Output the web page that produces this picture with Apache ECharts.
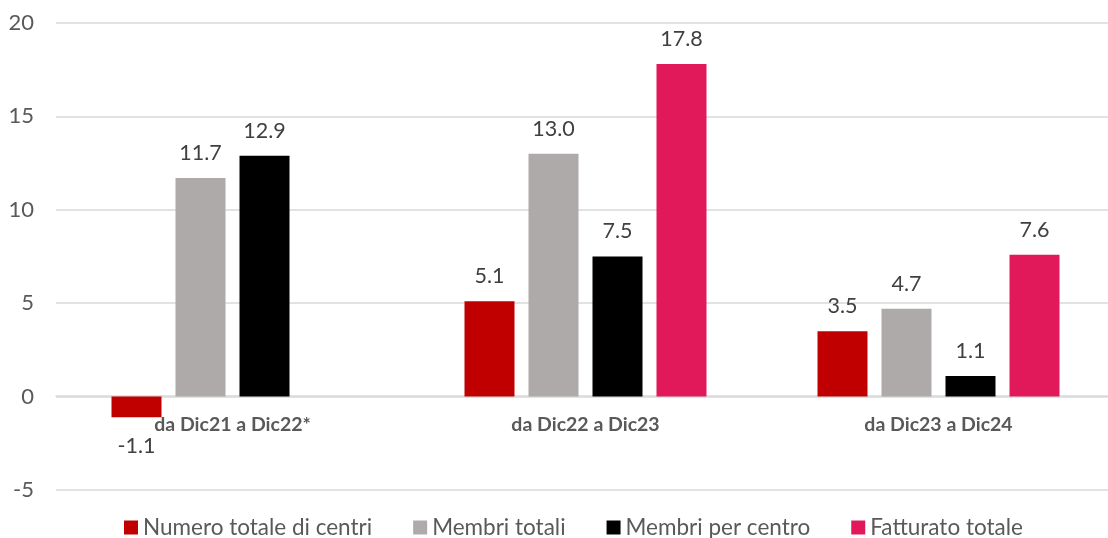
<!DOCTYPE html>
<html>
<head>
<meta charset="utf-8">
<script src="https://cdn.jsdelivr.net/npm/echarts@6/dist/echarts.min.js"></script>
<style>
  html, body { margin: 0; padding: 0; background: #fff; }
  #chart { width: 1108px; height: 538px; }
</style>
</head>
<body>
<div id="chart"></div>
<script>
const categories = ["da Dic21 a Dic22*", "da Dic22 a Dic23", "da Dic23 a Dic24"]
const numeroCentri = [-1.1, 5.1, 3.5]
const membriTotali = [11.7, 13.0, 4.7]
const membriPerCentro = [12.9, 7.5, 1.1]
const fatturato = [null, 17.8, 7.6]

const FONT = "Lato, 'Open Sans', sans-serif"

function barSeries(name, values, color) {
  return {
    name: name,
    type: "bar",
    barWidth: 50,
    barGap: "28%",
    itemStyle: { color: color },
    // negative bars get the label underneath
    data: values.map(v => (v !== null && v < 0) ? { value: v, label: { position: "bottom", distance: 18 } } : v),
    label: {
      show: true,
      position: "top",
      distance: 14,
      fontFamily: FONT,
      fontSize: 21.5,
      color: "#404040",
      formatter: p => p.value === null ? "" : Number(p.value).toFixed(1)
    }
  }
}

const mychart = echarts.init(document.getElementById("chart"))
const option = {
  animation: false,
  textStyle: { fontFamily: FONT },
  // plot runs a little past the right edge, like the source
  grid: { left: 56, width: 1059, top: 23, bottom: 48, outerBoundsMode: "none" },
  legend: {
    top: 516,
    left: 124,
    padding: 0,
    itemWidth: 14,
    itemHeight: 14,
    itemGap: 41,
    icon: "rect",
    textStyle: { fontFamily: FONT, fontSize: 22.5, color: "#595959" }
  },
  xAxis: {
    type: "category",
    data: categories,
    // category labels sit just under the zero line
    offset: -94,
    axisTick: { show: false },
    axisLine: { show: true, onZero: false, lineStyle: { color: "#D9D9D9", width: 1.5 } },
    axisLabel: { fontFamily: FONT, fontSize: 19.5, fontWeight: "bold", color: "#595959", margin: 19 }
  },
  yAxis: {
    type: "value",
    min: -5,
    max: 20,
    interval: 5,
    axisLine: { show: false },
    axisTick: { show: false },
    axisLabel: { fontFamily: FONT, fontSize: 22, color: "#595959", margin: 22 },
    splitLine: { lineStyle: { color: "#D9D9D9", width: 1.5 } }
  },
  series: [
    barSeries("Numero totale di centri", numeroCentri, "#C00000"),
    barSeries("Membri totali", membriTotali, "#AEAAAA"),
    barSeries("Membri per centro", membriPerCentro, "#000000"),
    barSeries("Fatturato totale", fatturato, "#E1195A")
  ]
}
mychart.setOption(option)
window.addEventListener("resize", () => mychart.resize())
</script>
</body>
</html>
